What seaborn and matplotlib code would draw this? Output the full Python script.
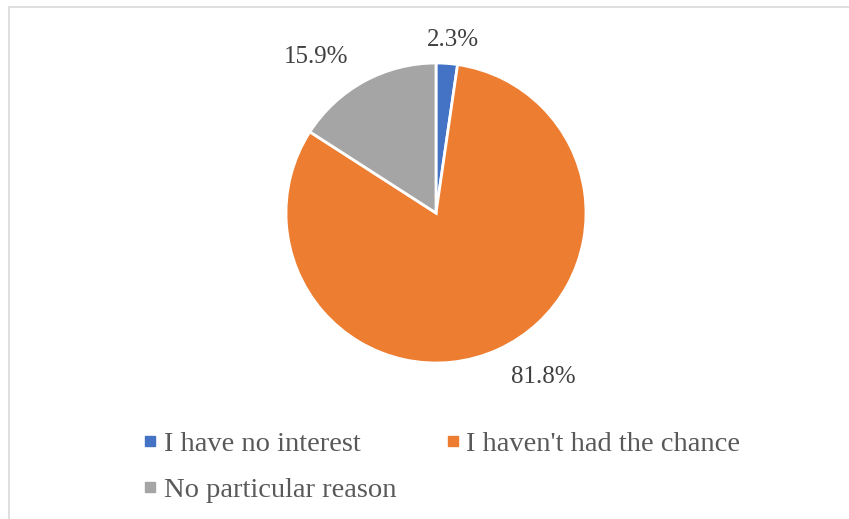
import numpy as np
import matplotlib
matplotlib.use("Agg")
import matplotlib.pyplot as plt
from matplotlib.lines import Line2D
from matplotlib.patches import Rectangle
import seaborn as sns

# Survey responses: why respondents have not done it
categories = ["I have no interest", "I haven't had the chance", "No particular reason"]
shares = [2.3, 81.8, 15.9]
colors = ["#4472C4", "#ED7D31", "#A5A5A5"]

sns.set_theme(style="white")
plt.rcParams["font.family"] = ["Liberation Serif", "DejaVu Serif"]

W, H = 849, 519
fig = plt.figure(figsize=(W / 100, H / 100), dpi=100)

# light frame around the chart area
fig.patches.append(Rectangle((8.5 / W, -0.1), 1.2, 1 - 7.5 / H + 0.1,
                             transform=fig.transFigure, fill=False,
                             edgecolor="#D9D9D9", linewidth=1.2, zorder=0))

# pie axes: centre (436, 213) px, radius 150 px
cx, cy, r = 436, 213, 150
ax = fig.add_axes([(cx - r) / W, (H - cy - r) / H, 2 * r / W, 2 * r / H])
wedges, _ = ax.pie(shares, colors=colors, startangle=90, counterclock=False,
                   radius=1.0, wedgeprops=dict(edgecolor="white", linewidth=2))
ax.set_xlim(-1, 1)
ax.set_ylim(-1, 1)
ax.set_aspect("equal")
ax.axis("off")

# value labels placed outside each slice
label_offsets = [(1.16, -1.5), (1.305, 8.6), (1.31, 9.0)]
for w, v, (dist, dang) in zip(wedges, shares, label_offsets):
    ang = np.deg2rad((w.theta1 + w.theta2) / 2 + dang)
    ax.text(dist * np.cos(ang), dist * np.sin(ang), f"{v:.1f}%",
            ha="center", va="center", fontsize=18, color="#404040",
            clip_on=False)

# legend: two columns, row order blue/orange then gray
handles = [Line2D([], [], marker="s", linestyle="none", markersize=6.5,
                  markerfacecolor=c, markeredgecolor=c) for c in colors]
order = [0, 2, 1]
fig.legend([handles[i] for i in order], [categories[i] for i in order],
           ncol=2, loc="upper left", bbox_to_anchor=(143 / W, 1 - 431 / H),
           frameon=False, fontsize=20.5, labelcolor="#595959",
           handlelength=0.5, handletextpad=0.22, columnspacing=1.75,
           labelspacing=0.72, borderaxespad=0, borderpad=0)

fig.savefig("out.png", dpi=100)
